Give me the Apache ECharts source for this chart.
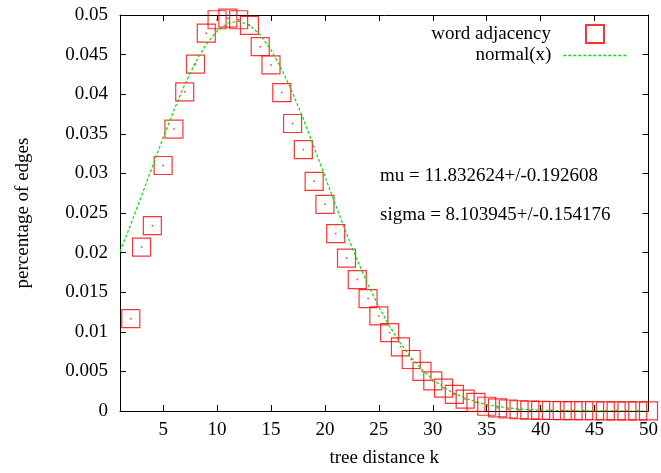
<!DOCTYPE html>
<html>
<head>
<meta charset="utf-8">
<script src="https://cdn.jsdelivr.net/npm/echarts@6/dist/echarts.min.js"></script>
<style>
html,body{margin:0;padding:0;background:#fff;}
#chart{width:661px;height:473px;}
</style>
</head>
<body>
<div id="chart"></div>
<script>
// ---- data ----
var distanceK = [2,3,4,5,6,7,8,9,10,11,12,13,14,15,16,17,18,19,20,21,22,23,24,25,26,27,28,29,30,31,32,33,34,35,36,37,38,39,40,41,42,43,44,45,46,47,48,49,50];
var wordAdjacency = [0.01166,0.0207,0.0234,0.0310,0.0356,0.0403,0.0438,0.0477,0.0494,0.0496,0.0494,0.0487,0.0460,0.0437,0.0402,0.0363,0.0330,0.0290,0.0261,0.0224,0.0193,0.0166,0.0142,0.0120,0.0099,0.0081,0.0065,0.0050,0.0038,0.0029,0.0021,0.0015,0.0011,0.0006,0.0004,0.00025,0.00016,0.0001,0.00008,0.00006,0.00005,0.00004,0.00003,0.00003,0.00002,0.00002,0.00001,0.00001,0.00001];
var normalX = [1,2,3,4,5,6,7,8,9,10,11,12,13,14,15,16,17,18,19,20,21,22,23,24,25,26,27,28,29,30,31,32,33,34,35,36,37,38,39,40,41,42,43,44,45,46,47,48,49,50];
var normalY = [0.02014,0.02358,0.02718,0.03086,0.03450,0.03799,0.04121,0.04402,0.04631,0.04799,0.04897,0.04922,0.04872,0.04750,0.04561,0.04313,0.04017,0.03685,0.03329,0.02962,0.02596,0.02241,0.01905,0.01595,0.01315,0.01068,0.00854,0.00673,0.00522,0.00399,0.00300,0.00222,0.00162,0.00117,0.000827,0.000577,0.000396,0.000268,0.000179,0.000117,0.0000755,0.000048,0.00003,0.000018,0.000011,0.000006,0.000004,0.000002,0.000001,0.0000006];
var xTicks = [5,10,15,20,25,30,35,40,45,50];
var yTicks = [0,0.005,0.01,0.015,0.02,0.025,0.03,0.035,0.04,0.045,0.05];
var seriesNames = ['word adjacency','normal(x)'];
var xTitle = 'tree distance k';
var yTitle = 'percentage of edges';
var fitTexts = ['mu = 11.832624+/-0.192608','sigma = 8.103945+/-0.154176'];

var FONT = '"Liberation Serif", "Times New Roman", serif';
var FS = 19;

var adjData = distanceK.map(function(k,i){return [k, wordAdjacency[i]];});
var normData = normalX.map(function(k,i){return [k, normalY[i]];});

var chart = echarts.init(document.getElementById('chart'), null, {renderer:'canvas'});

function xAxisCfg(pos, showLabels){
  return {
    type:'value', position:pos, min:1, max:50,
    axisLine:{show:true, onZero:false, lineStyle:{color:'#000', width:1}},
    axisTick:{show:true, inside:true, length:6, customValues:xTicks, lineStyle:{color:'#000'}},
    axisLabel:{show:showLabels, customValues:xTicks, margin:10, color:'#000', fontFamily:FONT, fontSize:FS},
    splitLine:{show:false}
  };
}
function yAxisCfg(pos, showLabels){
  return {
    type:'value', position:pos, min:0, max:0.05,
    axisLine:{show:true, onZero:false, lineStyle:{color:'#000', width:1}},
    axisTick:{show:true, inside:true, length:6, customValues:yTicks, lineStyle:{color:'#000'}},
    axisLabel:{show:showLabels, customValues:yTicks, margin:12, color:'#000', fontFamily:FONT, fontSize:FS,
      formatter:function(v){return String(+v.toFixed(4));}},
    splitLine:{show:false}
  };
}

var xb = xAxisCfg('bottom', true);
xb.name = xTitle; xb.nameLocation='middle'; xb.nameGap=38;
xb.nameTextStyle = {color:'#000', fontFamily:FONT, fontSize:FS};
var yl = yAxisCfg('left', true);
yl.name = yTitle; yl.nameLocation='middle'; yl.nameGap=87;
yl.nameTextStyle = {color:'#000', fontFamily:FONT, fontSize:FS};

var option = {
  animation:false,
  backgroundColor:'#fff',
  textStyle:{fontFamily:FONT},
  grid:{left:120, right:11, top:15, bottom:61, containLabel:false},
  xAxis:[xb, xAxisCfg('top', false)],
  yAxis:[yl, yAxisCfg('right', false)],
  legend:[
    {data:[seriesNames[0]], right:56, top:24, orient:'vertical', align:'right', padding:0,
     itemWidth:18, itemHeight:18, selectedMode:false,
     textStyle:{color:'#000', fontFamily:FONT, fontSize:FS, padding:[0,30,0,0]}},
    {data:[seriesNames[1]], right:34, top:46, orient:'vertical', align:'right', padding:0,
     itemWidth:63, itemHeight:18, selectedMode:false,
     itemStyle:{color:'rgba(0,0,0,0)', borderColor:'rgba(0,0,0,0)', borderWidth:0},
     lineStyle:{color:'#00e000', width:1.3, type:[3,2], opacity:1},
     textStyle:{color:'#000', fontFamily:FONT, fontSize:FS, padding:[0,7,0,0]}}
  ],
  graphic:[
    {type:'text', x:380, y:176, style:{text:fitTexts[0], fill:'#000', font:FS+'px '+FONT, verticalAlign:'middle'}},
    {type:'text', x:380, y:215, style:{text:fitTexts[1], fill:'#000', font:FS+'px '+FONT, verticalAlign:'middle'}}
  ],
  series:[
    {name:seriesNames[1], type:'line', data:normData, xAxisIndex:0, yAxisIndex:0,
     symbol:'none', showSymbol:false, smooth:false,
     lineStyle:{color:'#00e000', width:1.2, type:[3,2]}, itemStyle:{color:'#00e000'}, z:3},
    {name:seriesNames[0], type:'scatter', data:adjData, xAxisIndex:0, yAxisIndex:0,
     symbol:'rect', symbolSize:18,
     itemStyle:{color:'rgba(0,0,0,0)', borderColor:'#ff0000', borderWidth:1.2}, z:2},
    {name:'dots', type:'scatter', data:adjData, xAxisIndex:0, yAxisIndex:0,
     symbol:'rect', symbolSize:1.5, itemStyle:{color:'#ff0000'}, z:4, silent:true}
  ]
};
chart.setOption(option);
</script>
</body>
</html>
